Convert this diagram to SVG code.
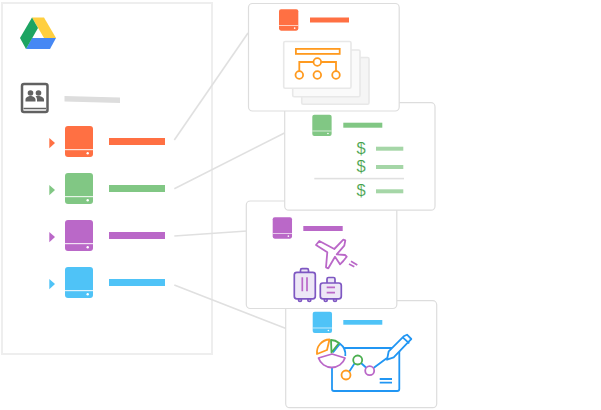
<svg xmlns="http://www.w3.org/2000/svg" xmlns:xlink="http://www.w3.org/1999/xlink" width="601" height="410" viewBox="0 0 601 410">
<style>
.panel{fill:#fff;stroke:#eee;stroke-width:2}
.card{fill:#fff;stroke:#ddd;stroke-width:1.2}
.conn{fill:none;stroke:#e0e0e0;stroke-width:1.6}
.or{fill:#ff7043}.gr{fill:#81c784}.pu{fill:#ba68c8}.bl{fill:#4fc3f7}
.sheet{stroke:#e8e8e8;stroke-width:1.6}
.org{fill:#fff;stroke:#ff9a1f;stroke-width:1.8}
.orgl{fill:none;stroke:#ff9a1f;stroke-width:1.8}
.lite{fill:#a5d6a7}
.dollar{font-family:"Liberation Sans",Arial,sans-serif;font-size:16.5px;fill:#43a047;stroke:#fff;stroke-width:.15;text-anchor:middle}
.bag{fill:#ede7f6;stroke:#7e57c2;stroke-width:1.7}
.bagl{fill:none;stroke:#ba68c8;stroke-width:1.7}
.plane{fill:#fff;stroke:#ba68c8;stroke-width:1.8;stroke-linejoin:round}
.chart{fill:none;stroke:#2196f3;stroke-width:1.8}
</style>
<defs>
<g id="disk">
<rect x="0" y="0" width="28" height="31" rx="3"/>
<rect x="0" y="23" width="28" height="1.2" fill="#fff" fill-opacity=".8"/>
<circle cx="22.7" cy="27.3" r="1.2" fill="#fff"/>
</g>
</defs>
<g id="drive-panel">
<rect class="panel" x="2" y="3" width="210" height="351"/>
</g>
<g id="connectors">
<path class="conn" d="M174.300 140L248 33"/>
<path class="conn" d="M174.300 188.700L284.500 133"/>
<path class="conn" d="M174.300 236L247 231"/>
<path class="conn" d="M174.300 285L286 328.500"/>
</g>
<g id="drive-logo">
<polygon fill="#ffcf3f" points="32,17.500 44,17.500 56,38 44,38"/>
<polygon fill="#4688f4" points="26,49 50,49 56,38 32,38"/>
<polygon fill="#1da462" points="32,17.500 38,28 26,49 20,38"/>
</g>
<g id="contacts">
<rect x="22" y="84" width="25.500" height="28" rx="2" fill="#fff" stroke="#616161" stroke-width="2.500"/>
<circle cx="30.500" cy="93" r="2.800" fill="#616161"/>
<circle cx="38.500" cy="93" r="2.800" fill="#616161"/>
<path fill="#616161" d="M25.500 101.500v-2c0-2 3-3.500 5-3.500s5 1.500 5 3.500v2zM37 101.500v-2c0-1.500-.8-2.500-1.500-3.200.9-.2 2-.3 3-.3 2 0 5.500 1.500 5.500 3.500v2z"/>
<path d="M23.500 108.500H46" stroke="#616161" stroke-width="1.500"/>
</g>
<g id="shared-label"><polygon fill="#ddd" points="64.500,96 120,97.500 120,103 64.500,101.500"/></g>
<g id="drive-orange" class="or">
<polygon points="49.300,138 55,143 49.300,148.300"/>
<use xlink:href="#disk" href="#disk" x="65" y="126"/>
<rect x="109" y="138" width="56" height="7"/>
</g>
<g id="drive-green" class="gr">
<polygon points="49.300,185 55,190 49.300,195.300"/>
<use xlink:href="#disk" href="#disk" x="65" y="173"/>
<rect x="109" y="185" width="56" height="7"/>
</g>
<g id="drive-purple" class="pu">
<polygon points="49.300,232 55,237 49.300,242.300"/>
<use xlink:href="#disk" href="#disk" x="65" y="220"/>
<rect x="109" y="232" width="56" height="7"/>
</g>
<g id="drive-blue" class="bl">
<polygon points="49.300,279 55,284 49.300,289.300"/>
<use xlink:href="#disk" href="#disk" x="65" y="267"/>
<rect x="109" y="279" width="56" height="7"/>
</g>
<g id="card-blue">
<rect class="card" x="285.700" y="300.700" width="151" height="107" rx="4"/>
<use class="bl" xlink:href="#disk" href="#disk" transform="translate(312.700 311.700) scale(.69)"/>
<rect class="bl" x="343.300" y="320" width="39" height="4.700"/>
<rect class="chart" x="332" y="348" width="67.300" height="43" rx="2"/>
<circle cx="332" cy="353.500" r="13.500" fill="#fff" stroke="none"/>
<path fill="#fff" stroke="#ff9a1f" stroke-width="1.800" stroke-linejoin="round" d="M329.500 339.500L327 350L317 354A13 13 0 0 1 329.500 339.500Z"/>
<path fill="none" stroke="#2196f3" stroke-width="1.800" d="M333 352.500L340 343.800A13.500 13.500 0 0 1 345.300 356"/>
<path fill="#fff" stroke="#4caf50" stroke-width="1.800" stroke-linejoin="round" d="M331 340L331.500 352.500L339 343A13 13 0 0 0 331 340Z"/>
<path fill="#fff" stroke="#ba68c8" stroke-width="1.800" stroke-linejoin="round" d="M318.500 358L332 354L345 358A14 14 0 0 1 318.500 358Z"/>
<path class="chart" d="M349 372L354.500 363.500M361 363L366.500 368M373.500 368L387 358M379.700 379H392M379.700 382.700H392"/>
<circle cx="346" cy="375" r="4.500" fill="#fff" stroke="#ff9a1f" stroke-width="1.800"/>
<circle cx="357.700" cy="360" r="4.500" fill="#fff" stroke="#4caf50" stroke-width="1.800"/>
<circle cx="369.700" cy="370.700" r="4.500" fill="#fff" stroke="#ba68c8" stroke-width="1.800"/>
<path fill="#fff" stroke="#2196f3" stroke-width="1.800" stroke-linejoin="round" d="M387 359.700L388.700 351.300L403.700 336.300L407 334.700L411.300 339L408 342.300L393.700 357.300ZM402.700 337.300L409.300 343.300"/>
</g>
<g id="card-purple">
<rect class="card" x="246.300" y="201" width="150.500" height="107.500" rx="4"/>
<use class="pu" xlink:href="#disk" href="#disk" transform="translate(272.700 217.300) scale(.69)"/>
<rect class="pu" x="303.300" y="226" width="39.400" height="5"/>
<polygon class="plane" points="316,245 319.300,241 334.300,249 343.300,239.700 345.300,240.300 344.300,245.700 336.700,254.300 345,255 346.700,256.700 343.300,261 340,264.300 335,256.700 328.300,268.300 326,267.300 327.300,252.300"/>
<path class="bagl" d="M351 261.300L357.300 265M349 264L354.300 266.700"/>
<rect class="bag" x="300.500" y="268.700" width="8" height="5" rx="1.500"/>
<circle class="bag" cx="300" cy="300" r="1.500"/>
<circle class="bag" cx="309.300" cy="300" r="1.500"/>
<rect class="bag" x="294.300" y="272.300" width="21" height="26.500" rx="2.500"/>
<path class="bagl" d="M302.300 277.300V291.300M307 277.300V291.300"/>
<rect class="bag" x="327" y="277.500" width="8" height="7" rx="1.500"/>
<circle class="bag" cx="325.700" cy="300" r="1.500"/>
<circle class="bag" cx="335" cy="300" r="1.500"/>
<rect class="bag" x="320.300" y="283" width="21" height="15.800" rx="2.500"/>
<path class="bagl" d="M326.700 287.300H335M326.700 292.700H335"/>
</g>
<g id="card-green">
<rect class="card" x="284.700" y="102.700" width="150.300" height="107.500" rx="4"/>
<use class="gr" xlink:href="#disk" href="#disk" transform="translate(312.300 114.700) scale(.69)"/>
<rect class="gr" x="343.300" y="122.700" width="39" height="5"/>
<text class="dollar" x="361" y="154">$</text>
<rect class="lite" x="376" y="146.700" width="27.300" height="4"/>
<text class="dollar" x="361" y="172">$</text>
<rect class="lite" x="376" y="165" width="27.300" height="4"/>
<rect x="314.300" y="177.800" width="89.700" height="1.600" fill="#e0e0e0"/>
<text class="dollar" x="361" y="195.500">$</text>
<rect class="lite" x="376" y="189.300" width="27.300" height="4"/>
</g>
<g id="card-orange">
<rect class="card" x="248.500" y="3.500" width="150.700" height="107.500" rx="4"/>
<use class="or" xlink:href="#disk" href="#disk" transform="translate(279 9.300) scale(.69)"/>
<rect class="or" x="310" y="17.500" width="39" height="5"/>
<rect class="sheet" x="301.700" y="57.500" width="67.300" height="46.800" rx="1.500" fill="#f5f5f5"/>
<rect class="sheet" x="292.700" y="50" width="67.300" height="46.800" rx="1.500" fill="#fafafa"/>
<rect class="sheet" x="283.700" y="41.500" width="67.300" height="46.800" rx="1.500" fill="#fff"/>
<rect x="295.900" y="48.900" width="43.800" height="5" fill="#fff" stroke="#ff9a1f" stroke-width="1.800"/>
<path class="orgl" d="M299.300 71V62H336V71"/>
<circle class="org" cx="317.300" cy="62" r="3.800"/>
<circle class="org" cx="299.300" cy="75" r="3.800"/>
<circle class="org" cx="317.300" cy="75" r="3.800"/>
<circle class="org" cx="336" cy="75" r="3.800"/>
</g>
</svg>
